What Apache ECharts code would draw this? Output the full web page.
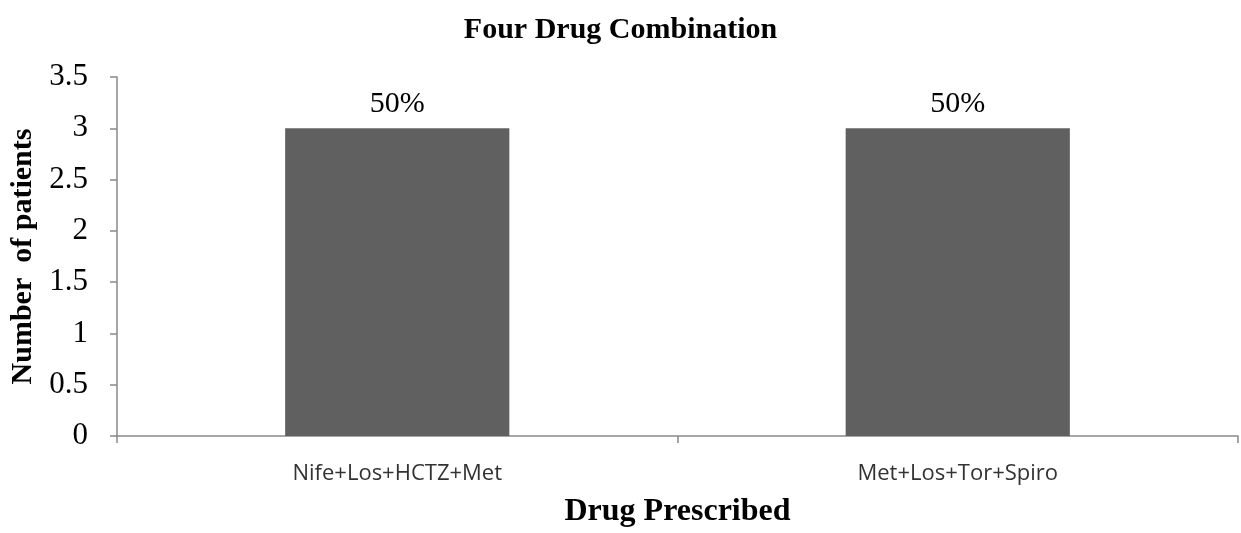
<!DOCTYPE html>
<html><head><meta charset="utf-8">
<script src="https://cdn.jsdelivr.net/npm/echarts@6/dist/echarts.min.js"></script>
<style>html,body{margin:0;padding:0;background:#fff}#c{width:1241px;height:533px}</style>
</head><body><div id="c"></div>
<script>
const categories = ["Nife+Los+HCTZ+Met", "Met+Los+Tor+Spiro"];
const patients = [3, 3];
const percentLabels = ["50%", "50%"];
const yTicks = [0, 0.5, 1, 1.5, 2, 2.5, 3, 3.5];

const serif = "'Liberation Serif', 'Times New Roman', serif";
const chart = echarts.init(document.getElementById('c'), null, {renderer: 'canvas'});
chart.setOption({
  backgroundColor: '#fff',
  animation: false,
  title: {
    text: 'Four Drug Combination', left: 'center', top: 10,
    textStyle: {fontFamily: serif, fontWeight: 'bold', fontSize: 30, color: '#000'}
  },
  grid: {left: 117, right: 3, top: 77, bottom: 95},
  xAxis: {
    type: 'category', data: categories,
    name: 'Drug Prescribed', nameLocation: 'middle', nameGap: 60,
    nameTextStyle: {fontFamily: serif, fontWeight: 'bold', fontSize: 32, color: '#000'},
    axisLine: {lineStyle: {color: '#898989', width: 1.5}},
    axisTick: {show: true, length: 7, lineStyle: {color: '#898989', width: 1.5}},
    axisLabel: {fontFamily: "'Open Sans', sans-serif", fontSize: 22, color: '#333', margin: 27}
  },
  yAxis: {
    type: 'value', min: 0, max: 3.5, interval: 0.5,
    name: 'Number  of patients', nameLocation: 'middle', nameGap: 78, nameRotate: 90,
    nameTextStyle: {fontFamily: serif, fontWeight: 'bold', fontSize: 30, color: '#000'},
    axisLine: {show: true, lineStyle: {color: '#898989', width: 1.5}},
    axisTick: {show: true, length: 7, lineStyle: {color: '#898989', width: 1.5}},
    splitLine: {show: false},
    axisLabel: {fontFamily: serif, fontSize: 31, color: '#000', margin: 29,
      formatter: v => yTicks.includes(v) ? String(v) : ''}
  },
  series: [{
    type: 'bar', data: patients, barWidth: '40%',
    itemStyle: {color: '#606060'},
    label: {show: true, position: 'top', distance: 9,
      fontFamily: serif, fontSize: 30, color: '#000',
      formatter: p => percentLabels[p.dataIndex]}
  }]
});
</script></body></html>
